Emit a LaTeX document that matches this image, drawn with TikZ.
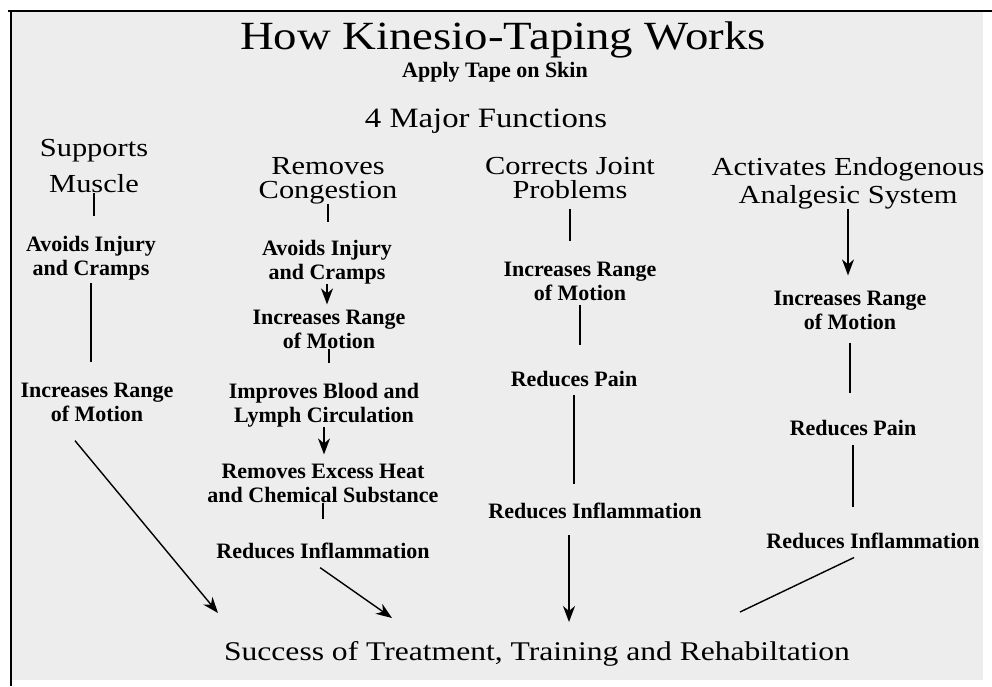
\documentclass[tikz,border=0pt]{standalone}
\usepackage{fontspec}
\setmainfont{Liberation Serif}
\newfontfamily\headfont[FakeStretch=1.17]{Liberation Serif}
\usetikzlibrary{arrows.meta}
\colorlet{scanbg}{black!7}
\tikzset{
  headtxt/.style={font=\headfont\fontsize{26}{24}\selectfont, align=center, inner sep=0pt, anchor=base},
  labeltxt/.style={font=\bfseries\fontsize{22}{24}\selectfont, align=center, inner sep=0pt, anchor=base},
  link/.style={line width=1.4pt},
  arr/.style={link, -{Stealth[length=16pt,width=12pt,inset=5pt]}}
}
\begin{document}
\begin{tikzpicture}[x=1pt,y=-1pt]
    \useasboundingbox (0,0) rectangle (992,686);
    \fill[scanbg] (12,12) rectangle (983,680);
    \draw[line width=2pt] (8,11) -- (992,11);
    \draw[line width=2.5pt] (11,10) -- (11,686);
    \node[headtxt, font=\headfont\fontsize{40}{40}\selectfont] (title) at (503,49) {How Kinesio-Taping Works};
    \node[labeltxt] (apply) at (495,77) {Apply Tape on Skin};
    \node[headtxt, font=\headfont\fontsize{28}{28}\selectfont] (major) at (486,127) {4 Major Functions};
    \node[headtxt] (musc) at (94,192) {Supports\\[12pt]Muscle};
    \node[headtxt] (cong) at (328,198) {Removes\\Congestion};
    \node[headtxt] (prob) at (570,198) {Corrects Joint\\Problems};
    \node[headtxt] (anal) at (848,203) {Activates Endogenous\\[4pt]Analgesic System};
    \node[labeltxt] (avA) at (91,275) {Avoids Injury\\and Cramps};
    \node[labeltxt] (irA) at (97,421) {Increases Range\\of Motion};
    \node[labeltxt] (avB) at (327,279) {Avoids Injury\\and Cramps};
    \node[labeltxt] (irB) at (329,348) {Increases Range\\of Motion};
    \node[labeltxt] (ibB) at (324,422) {Improves Blood and\\Lymph Circulation};
    \node[labeltxt] (reB) at (323,502) {Removes Excess Heat\\and Chemical Substance};
    \node[labeltxt] (rdB) at (323,558) {Reduces Inflammation};
    \node[labeltxt] (irC) at (580,300) {Increases Range\\of Motion};
    \node[labeltxt] (rpC) at (574,386) {Reduces Pain};
    \node[labeltxt] (rdC) at (595,518) {Reduces Inflammation};
    \node[labeltxt] (irD) at (850,329) {Increases Range\\of Motion};
    \node[labeltxt] (rpD) at (853,435) {Reduces Pain};
    \node[labeltxt] (rdD) at (873,548) {Reduces Inflammation};
    \node[headtxt, font=\headfont\fontsize{27}{27}\selectfont] (succ) at (537,660) {Success of Treatment, Training and Rehabiltation};
    \coordinate (tipA) at (218,613);
    \coordinate (tipB) at (392,618);
    \coordinate (tipC) at (569,622);
    \coordinate (endD) at (740,612);
    \draw[link, shorten <=1pt, shorten >=20pt] (musc.south) -- (musc.south |- avA.north);
    \draw[link, shorten <=3pt, shorten >=20pt] (avA.south) -- (avA.south |- irA.north);
    \draw[arr, shorten <=25pt] ([xshift=-38pt]irA.south) -- (tipA);
    \draw[link, shorten >=18pt] (cong.south) -- (cong.south |- avB.north);
    \draw[arr, shorten >=5pt] (avB.south) -- (avB.south |- irB.north);
    \draw[link, shorten <=1pt, shorten >=20pt] (irB.south) -- (irB.south |- ibB.north);
    \draw[arr, shorten >=9pt] (ibB.south) -- (ibB.south |- reB.north);
    \draw[link, shorten <=1pt, shorten >=23pt] (reB.south) -- (reB.south |- rdB.north);
    \draw[arr, shorten <=16pt] ([xshift=-16pt]rdB.south) -- (tipB);
    \draw[link, shorten <=11pt, shorten >=20pt] (prob.south) -- (prob.south |- irC.north);
    \draw[link, shorten <=5pt, shorten >=26pt] (irC.south) -- (irC.south |- rpC.north);
    \draw[link, shorten <=9pt, shorten >=18pt] (rpC.south) -- (rpC.south |- rdC.north);
    \draw[arr, shorten <=17pt] ([xshift=-26pt]rdC.south) -- (tipC);
    \draw[arr, shorten >=15pt] (anal.south) -- (anal.south |- irD.north);
    \draw[link, shorten <=14pt, shorten >=27pt] (irD.south) -- (irD.south |- rpD.north);
    \draw[link, shorten <=10pt, shorten >=25pt] (rpD.south) -- (rpD.south |- rdD.north);
    \draw[link, shorten <=21pt] (rdD.south) -- (endD);
\end{tikzpicture}
\end{document}
